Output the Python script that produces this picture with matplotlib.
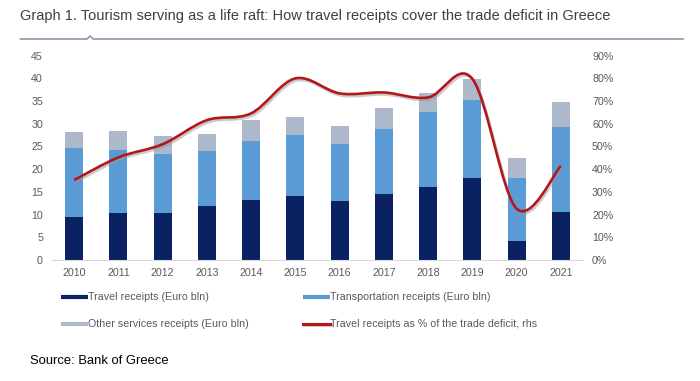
import matplotlib
matplotlib.use('Agg')
import matplotlib.pyplot as plt
import matplotlib.patheffects as pe
from matplotlib.path import Path
from matplotlib.patches import PathPatch
from matplotlib.lines import Line2D
from matplotlib.ticker import PercentFormatter
import numpy as np

plt.rcParams['font.family'] = ['Liberation Sans', 'DejaVu Sans']

years = ['2010', '2011', '2012', '2013', '2014', '2015',
         '2016', '2017', '2018', '2019', '2020', '2021']
travel = [9.4, 10.3, 10.3, 12.0, 13.2, 14.0, 13.1, 14.5, 16.0, 18.0, 4.2, 10.5]
transport = [15.3, 14.0, 13.1, 12.0, 13.1, 13.6, 12.4, 14.4, 16.6, 17.2, 13.8, 18.7]
other = [3.5, 4.1, 3.9, 3.7, 4.6, 3.8, 4.1, 4.5, 4.2, 4.7, 4.5, 5.6]
pct_deficit = [35.2, 45.2, 51.0, 61.6, 64.6, 80.0, 73.4, 73.8, 71.6, 79.8, 22.6, 41.4]

labels = ['Travel receipts (Euro bln)', 'Transportation receipts (Euro bln)',
          'Other services receipts (Euro bln)', 'Travel receipts as % of the trade deficit, rhs']

c_travel = '#0a2262'
c_transport = '#5b9bd5'
c_other = '#adb9ca'
c_line = '#b4161b'
c_tick = '#595959'

W, H = 700, 381
fig = plt.figure(figsize=(7, 3.81), dpi=100)
ax = fig.add_axes([52 / W, 1 - 260 / H, (583 - 52) / W, (260 - 55.7) / H])
ax2 = ax.twinx()

x = np.arange(len(years))
bw = 0.41
ax.bar(x, travel, bw, color=c_travel, zorder=2)
ax.bar(x, transport, bw, bottom=travel, color=c_transport, zorder=2)
ax.bar(x, other, bw, bottom=np.array(travel) + np.array(transport), color=c_other, zorder=2)

ax.set_xlim(-0.5, len(years) - 0.5)
ax.set_ylim(0, 45)
ax.set_yticks(range(0, 46, 5))
ax.set_xticks(x)
ax.set_xticklabels(years)

# smoothed line like excel (bezier through points)
pts = np.column_stack([x, np.array(pct_deficit) / 100])
verts = [tuple(pts[0])]
codes = [Path.MOVETO]
n = len(pts)
for i in range(n - 1):
    p0 = pts[i - 1] if i > 0 else pts[i]
    p1 = pts[i]
    p2 = pts[i + 1]
    p3 = pts[i + 2] if i + 2 < n else pts[i + 1]
    c1 = p1 + (p2 - p0) / 6
    c2 = p2 - (p3 - p1) / 6
    verts += [tuple(c1), tuple(c2), tuple(p2)]
    codes += [Path.CURVE4] * 3
curve = PathPatch(Path(verts, codes), fill=False, edgecolor=c_line, lw=1.9,
                  transform=ax2.transData, zorder=3,
                  path_effects=[pe.SimpleLineShadow(offset=(1, -1.5), shadow_color='#999999', alpha=0.5),
                                pe.Normal()])
ax2.add_patch(curve)
ax2.set_ylim(0, 0.9)
ax2.set_yticks(np.arange(0, 0.91, 0.1))
ax2.yaxis.set_major_formatter(PercentFormatter(1.0, decimals=0))

for a in (ax, ax2):
    for s in a.spines.values():
        s.set_visible(False)
    a.tick_params(length=0, labelsize=7.7, colors=c_tick)
ax.spines['bottom'].set_visible(True)
ax.spines['bottom'].set_color('#d9d9d9')
ax.tick_params(axis='y', pad=6.5)
ax.tick_params(axis='x', pad=6)
ax2.tick_params(axis='y', pad=6.5)

# title and rule with caret
fig.text(20.5 / W, 1 - 16 / H, 'Graph 1. Tourism serving as a life raft: How travel receipts cover the trade deficit in Greece',
         fontsize=10.5, color='#3a3f4a', va='center', ha='left')
rx = np.array([20.5, 87, 90, 93, 683]) / W
ry = 1 - np.array([39, 39, 36, 39, 39]) / H
fig.add_artist(Line2D(rx, ry, color='#8a98ab', lw=1.2, transform=fig.transFigure))

# legend
colors = [c_travel, c_transport, c_other, c_line]
lx = [61, 303, 61, 303]
ly = [296.7, 296.7, 324, 324]
for lab, col, px, py in zip(labels, colors, lx, ly):
    yy = 1 - py / H
    if col == c_line:
        ln = Line2D([px / W, (px + 27) / W], [yy, yy], color=col, lw=2.2, transform=fig.transFigure,
                    path_effects=[pe.SimpleLineShadow(offset=(0.5, -1), shadow_color='#999999', alpha=0.5), pe.Normal()])
    else:
        ln = Line2D([px / W, (px + 27) / W], [yy, yy], color=col, lw=3, solid_capstyle='butt',
                    transform=fig.transFigure)
    fig.add_artist(ln)
    fig.text((px + 27.5) / W, yy, lab, fontsize=7.7, color=c_tick, va='center', ha='left')

fig.text(30.5 / W, 1 - 361.5 / H, 'Source: Bank of Greece', fontsize=9.4, color='black', va='center', ha='left')

fig.savefig('out.png', dpi=100)
